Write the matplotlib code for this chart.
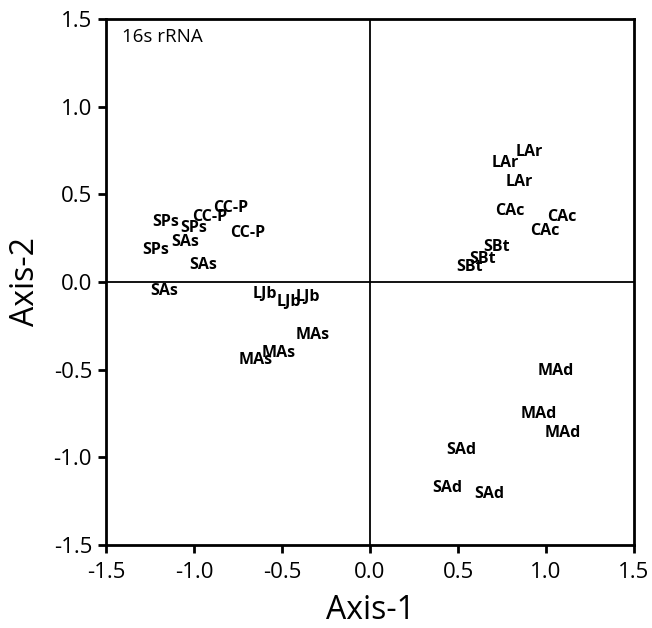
import matplotlib
matplotlib.use("Agg")
import matplotlib.pyplot as plt

# sample labels and their ordination scores
labels = ["CC-P", "CC-P", "CC-P",
          "SPs", "SPs", "SPs",
          "SAs", "SAs", "SAs",
          "LJb", "LJb", "LJb",
          "MAs", "MAs", "MAs",
          "LAr", "LAr", "LAr",
          "CAc", "CAc", "CAc",
          "SBt", "SBt", "SBt",
          "MAd", "MAd", "MAd",
          "SAd", "SAd", "SAd"]
axis1 = [-0.793, -0.913, -0.694,
         -1.159, -1.001, -1.220,
         -1.048, -0.949, -1.167,
         -0.597, -0.461, -0.353,
         -0.326, -0.520, -0.648,
         0.908, 0.766, 0.847,
         0.792, 1.090, 0.995,
         0.719, 0.637, 0.565,
         1.057, 0.957, 1.098,
         0.519, 0.440, 0.680]
axis2 = [0.420, 0.372, 0.278,
         0.344, 0.306, 0.184,
         0.226, 0.097, -0.050,
         -0.068, -0.112, -0.084,
         -0.302, -0.403, -0.445,
         0.740, 0.679, 0.570,
         0.407, 0.369, 0.291,
         0.198, 0.133, 0.086,
         -0.509, -0.753, -0.860,
         -0.957, -1.175, -1.209]
ticks = [-1.5, -1.0, -0.5, 0.0, 0.5, 1.0, 1.5]

plt.rcParams["font.family"] = ["Open Sans", "DejaVu Sans"]

fig = plt.figure(figsize=(6.52, 6.28), dpi=100)
ax = fig.add_axes([106 / 652, 1 - 545 / 628, 528 / 652, 526 / 628])

ax.set_xlim(-1.5, 1.5)
ax.set_ylim(-1.5, 1.5)
ax.axhline(0, color="black", lw=1.3)
ax.axvline(0, color="black", lw=1.3)

for lab, x, y in zip(labels, axis1, axis2):
    ax.text(x, y, lab, ha="center", va="center", fontsize=11.5, fontweight="bold")

ax.text(0.03, 0.983, "16s rRNA", transform=ax.transAxes, ha="left", va="top", fontsize=13.5)

ax.set_xticks(ticks)
ax.set_yticks(ticks)
ax.set_xticklabels([f"{t:.1f}" for t in ticks])
ax.set_yticklabels([f"{t:.1f}" for t in ticks])
ax.tick_params(direction="out", length=6, width=2, labelsize=16)
ax.tick_params(axis="x", pad=6)
ax.tick_params(axis="y", pad=4)
for s in ax.spines.values():
    s.set_linewidth(2)

ax.set_xlabel("Axis-1", fontsize=23, labelpad=8)
ax.set_ylabel("Axis-2", fontsize=23, labelpad=8)

fig.savefig("out.png", dpi=100)
